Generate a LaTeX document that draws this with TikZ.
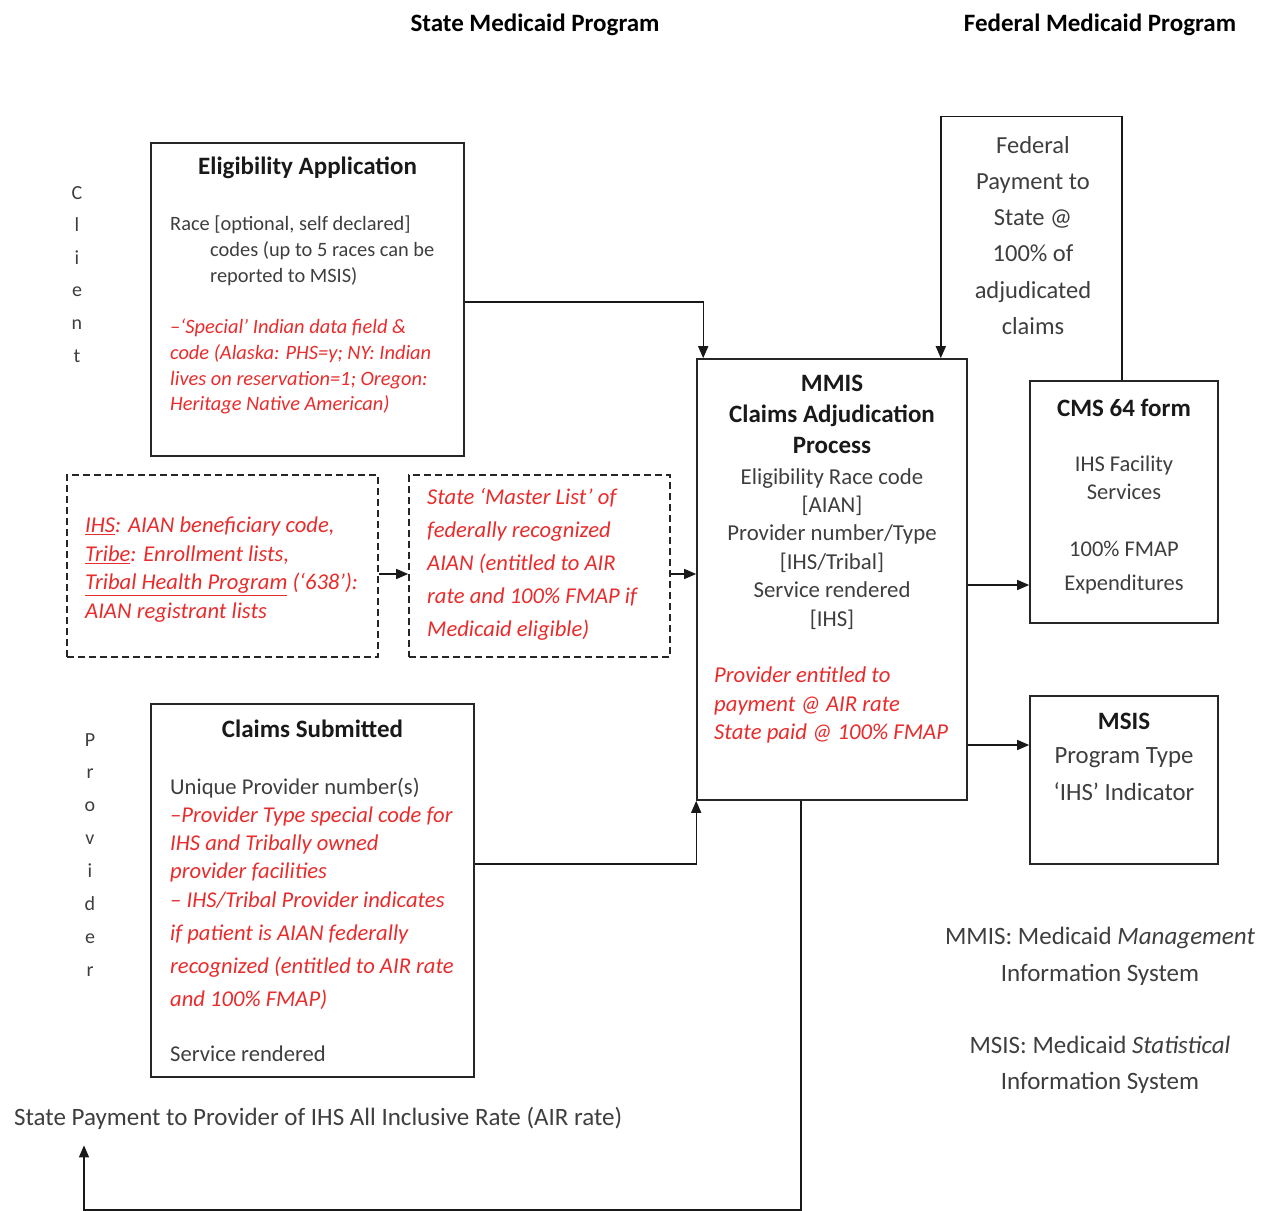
\documentclass[tikz,border=0pt]{standalone}
\usepackage{fontspec}
\setmainfont{Carlito}
\usetikzlibrary{arrows.meta,calc}

\definecolor{redtext}{RGB}{232,44,44}
\definecolor{greytext}{RGB}{62,62,62}
\def\fsz#1#2{\fontsize{#1}{#2}\selectfont}

\begin{document}
\begin{tikzpicture}[x=1pt,y=-1pt,inner sep=0pt]
    \tikzstyle{box}=[draw=black!85,line width=1.6pt,rectangle]
    \tikzstyle{dashbox}=[box,dash pattern=on 7pt off 4pt]
    \tikzstyle{flow}=[-{Triangle[length=12pt,width=10pt]},line width=1.4pt,draw=black!90]
    \tikzstyle{title}=[font=\fsz{25}{29}\bfseries,text=black!90]
    \tikzstyle{body}=[text=greytext,align=left]
    \tikzstyle{note}=[text=redtext,align=left,font=\itshape]

    \useasboundingbox (0,0) rectangle (1262,1211);

    % Column headings
    \node[font=\fsz{25}{28}\bfseries] (state) at (535,25) {State Medicaid Program};
    \node[font=\fsz{25}{28}\bfseries] (fed) at (1100,25) {Federal Medicaid Program};

    % Client side
    \node[body,align=center,anchor=north,font=\fsz{20}{32.6}] (client) at (77,186) {C\\l\\i\\e\\n\\t};
    \node[box,minimum width=313pt,minimum height=313pt] (elig) at (307.5,299.5) {};
    \node[title] (elig-t) at (307.5,168) {Eligibility Application};
    \node[body,anchor=north west,font=\fsz{20.4}{26}] (elig-b) at (170,216)
        {Race [optional, self declared]\\
         \hspace*{40pt}codes (up to 5 races can be\\
         \hspace*{40pt}reported to MSIS)};
    \node[note,anchor=north west,font=\fsz{20.4}{25.7}\itshape] (elig-r) at (170,319)
        {--`Special' Indian data field \&\\
         code (Alaska: PHS=y; NY: Indian\\
         lives on reservation=1; Oregon:\\
         Heritage Native American)};

    % Identification lists
    \node[dashbox,minimum width=311pt,minimum height=182pt] (lists) at (222.5,566) {};
    \node[note,anchor=north west,font=\fsz{22.6}{28.5}\itshape] (lists-t) at (85,517)
        {\underline{IHS}: AIAN beneficiary code,\\
         \underline{Tribe}: Enrollment lists,\\
         \underline{Tribal Health Program} (`638'):\\
         AIAN registrant lists};
    \node[dashbox,minimum width=261pt,minimum height=182pt] (master) at (539.5,566) {};
    \node[note,anchor=north west,font=\fsz{22.6}{33}\itshape] (master-t) at (427,488)
        {State `Master List' of\\
         federally recognized\\
         AIAN (entitled to AIR\\
         rate and 100\% FMAP if\\
         Medicaid eligible)};

    % Adjudication
    \node[box,minimum width=270pt,minimum height=441pt] (mmis) at (832,579.5) {};
    \node[title,align=center,anchor=north,font=\fsz{25}{31}\bfseries] (mmis-t) at (832,375)
        {MMIS\\Claims Adjudication\\Process};
    \node[body,align=center,anchor=north,font=\fsz{22.8}{28.4}] (mmis-b) at (832,468)
        {Eligibility Race code\\{[AIAN]}\\Provider number/Type\\{[IHS/Tribal]}\\Service rendered\\{[IHS]}};
    \node[note,anchor=north west,font=\fsz{22.7}{28.5}\itshape] (mmis-r) at (714,667)
        {Provider entitled to\\payment @ AIR rate\\State paid @ 100\% FMAP};

    % Federal side
    \node[body,align=center,anchor=north,font=\fsz{24.5}{36.2}] (fedpay) at (1033,136)
        {Federal\\Payment to\\State @\\100\% of\\adjudicated\\claims};
    \node[box,minimum width=188pt,minimum height=242pt] (cms) at (1124,502) {};
    \node[title] (cms-t) at (1124,408) {CMS 64 form};
    \node[body,align=center,anchor=north,font=\fsz{22.5}{28}] (cms-a) at (1124,456) {IHS Facility\\Services};
    \node[body,align=center,anchor=north,font=\fsz{22.5}{34}] (cms-b) at (1124,541) {100\% FMAP\\Expenditures};
    \node[box,minimum width=188pt,minimum height=168pt] (msis) at (1124,780) {};
    \node[title] (msis-t) at (1124,721) {MSIS};
    \node[body,align=center,anchor=north,font=\fsz{24.8}{37}] (msis-b) at (1124,747) {Program Type\\`IHS' Indicator};

    % Provider side
    \node[body,align=center,anchor=north,font=\fsz{20}{32.9}] (provider) at (90,733) {P\\r\\o\\v\\i\\d\\e\\r};
    \node[box,minimum width=323pt,minimum height=373pt] (claims) at (312.5,890.5) {};
    \node[title] (claims-t) at (312.5,729) {Claims Submitted};
    \node[body,anchor=north west,font=\fsz{22.6}{28}] (claims-a) at (170,778) {Unique Provider number(s)};
    \node[note,anchor=north west,font=\fsz{22.6}{28}\itshape] (claims-r1) at (170,807)
        {--Provider Type special code for\\IHS and Tribally owned\\provider facilities};
    \node[note,anchor=north west,font=\fsz{22.6}{32.7}\itshape] (claims-r2) at (170,892)
        {-- IHS/Tribal Provider indicates\\if patient is AIAN federally\\recognized (entitled to AIR rate\\and 100\% FMAP)};
    \node[body,anchor=north west,font=\fsz{22.6}{28}] (claims-c) at (170,1046) {Service rendered};

    \node[body,anchor=west,font=\fsz{25}{28}] (pay) at (14,1118)
        {State Payment to Provider of IHS All Inclusive Rate (AIR rate)};

    % Legend
    \node[body,align=center,anchor=north,font=\fsz{25}{37}] (leg-mmis) at (1100,927)
        {MMIS: Medicaid \textit{Management}\\Information System};
    \node[body,align=center,anchor=north,font=\fsz{25}{36}] (leg-msis) at (1100,1036)
        {MSIS: Medicaid \textit{Statistical}\\Information System};

    % Connect the boxes
    \draw[flow] ([yshift=-2.5pt]elig.east) -| ([xshift=7pt]mmis.north west);
    \draw[flow] ([yshift=-8pt]lists.east) -- ([yshift=-8pt]master.west);
    \draw[flow] ([yshift=-8pt]master.east) -- ([yshift=-8pt]master.east -| mmis.west);
    \draw[flow] ([yshift=26.5pt]claims.east) -| (mmis.south west);
    \draw[flow] ([yshift=-5.5pt]mmis.east) -- ([yshift=-5.5pt]mmis.east -| cms.west);
    \draw[flow] ([yshift=35pt]msis.west -| mmis.east) -- ([yshift=35pt]msis.west);
    \draw[flow] ([xshift=-2pt]cms.north) -- ++(0,-264) -| ([xshift=-27pt]mmis.north east);
    \draw[flow] ([xshift=-31pt]mmis.south) -- ++(0,409) -| ([xshift=70pt,yshift=-16pt]pay.south west);
\end{tikzpicture}
\end{document}
